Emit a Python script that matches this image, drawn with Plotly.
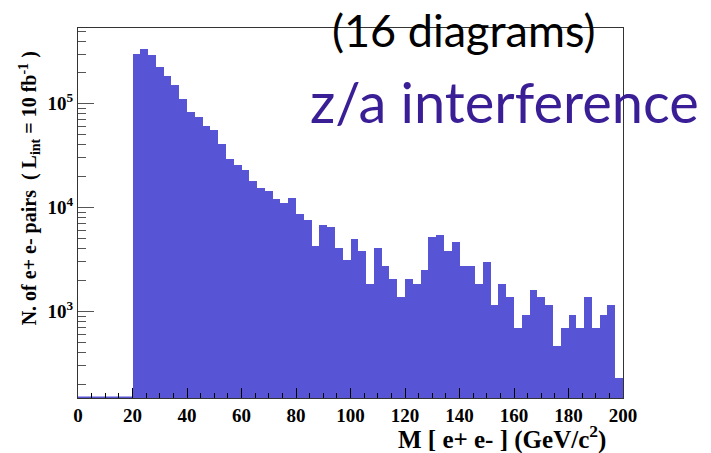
import numpy as np
import plotly.graph_objects as go

# ---- data (70 bins from 0 to 200 GeV/c^2) ----
n_bins = 70
x_min, x_max = 0.0, 200.0
counts = [0, 0, 0, 0, 0, 0, 0,
          299000, 336000, 294000, 225000, 185000, 150000, 110000,
          83000, 74000, 60600, 55500, 41200, 29600, 25600,
          22900, 18000, 15400, 14500, 12000, 11100, 12300,
          8650, 7570, 4310, 6780, 6560, 4120, 3160,
          5030, 3860, 1850, 4120, 2750, 2060, 1370,
          2060, 1850, 2520, 5260, 5430, 3860, 4710,
          2750, 2750, 1850, 2960, 1150, 1850, 1370,
          687, 915, 1610, 1370, 1150, 460, 687,
          915, 687, 1370, 687, 915, 1150, 230]
x_tick_vals = [0, 20, 40, 60, 80, 100, 120, 140, 160, 180, 200]
y_tick_vals = [1e3, 1e4, 1e5]
y_tick_text = ["10<sup>3</sup>", "10<sup>4</sup>", "10<sup>5</sup>"]
y_log_range = [2.167, 5.728]

title_top = "(16 diagrams)"
title_main = "z/a interference"
x_title = "M [ e+ e- ] (GeV/c<sup>2</sup>)"
y_title = "N. of e+ e- pairs  ( L<sub>int</sub> = 10 fb<sup>-1</sup> )"

BAR_COLOR = "rgb(88,84,214)"
TEXT_PURPLE = "rgb(58,30,150)"

edges = np.linspace(x_min, x_max, n_bins + 1)
centers = 0.5 * (edges[:-1] + edges[1:])
width = edges[1] - edges[0]
counts = np.array(counts, dtype=float)

nz = counts > 0
fig = go.Figure()
fig.add_trace(go.Bar(x=centers[nz], y=counts[nz], width=width,
                     marker=dict(color=BAR_COLOR, line=dict(width=0)),
                     showlegend=False))
# empty bins: histogram outline sits on the axis floor
zero_edges = edges[:-1][~nz]
floor_val = 10 ** y_log_range[0]
fig.add_trace(go.Scatter(x=[zero_edges.min(), zero_edges.max() + width],
                         y=[floor_val * 1.01, floor_val * 1.01],
                         mode="lines", line=dict(color=BAR_COLOR, width=2),
                         showlegend=False, hoverinfo="skip"))

minor_y = [m * 10 ** e for e in (2, 3, 4, 5) for m in range(2, 10)]
minor_y = [v for v in minor_y if 10 ** y_log_range[0] < v < 10 ** y_log_range[1]]

tick_font = dict(family="Liberation Serif", size=19, color="black", weight="bold")

fig.update_layout(
    width=711, height=453,
    margin=dict(l=78, r=88, t=28, b=55),
    paper_bgcolor="white", plot_bgcolor="white",
    bargap=0,
    xaxis=dict(range=[x_min, x_max], tickvals=x_tick_vals, ticks="inside",
               ticklen=10, tickwidth=1, tickcolor="black",
               showline=True, linecolor="#333", linewidth=1, mirror=True,
               showgrid=False, zeroline=False, tickfont=tick_font,
               minor=dict(dtick=5, ticks="inside", ticklen=5, tickcolor="black", showgrid=False)),
    yaxis=dict(type="log", range=y_log_range, tickvals=y_tick_vals, ticktext=y_tick_text,
               ticks="inside", ticklen=16, tickwidth=1, tickcolor="#555",
               showline=True, linecolor="#333", linewidth=1, mirror=True,
               showgrid=False, zeroline=False, tickfont=tick_font,
               minor=dict(tickmode="array", tickvals=minor_y, ticks="inside",
                          ticklen=8, tickcolor="#555", showgrid=False)),
    annotations=[
        dict(text=x_title, xref="paper", yref="paper", x=0.972, y=-0.107,
             xanchor="right", yanchor="middle", showarrow=False,
             font=dict(family="Liberation Serif", size=25, color="black", weight="bold")),
        dict(text=y_title, xref="paper", yref="paper", x=-0.089, y=0.568,
             xanchor="center", yanchor="middle", showarrow=False, textangle=-90,
             font=dict(family="Liberation Serif", size=20, color="black", weight="bold")),
        dict(text=title_top, xref="paper", yref="paper", x=0.7075, y=0.994,
             xanchor="center", yanchor="middle", showarrow=False,
             font=dict(family="Lato", size=45, color="black")),
        dict(text=title_main, xref="paper", yref="paper", x=0.782, y=0.80,
             xanchor="center", yanchor="middle", showarrow=False,
             font=dict(family="Lato", size=56, color=TEXT_PURPLE)),
    ],
)

fig.write_html("out.html")
